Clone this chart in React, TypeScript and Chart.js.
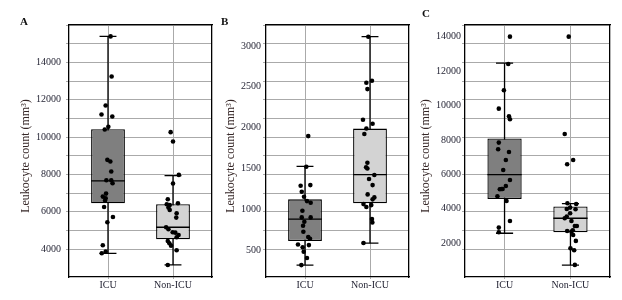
import React, { useEffect, useRef } from 'react';
import { Chart, registerables } from 'chart.js';
Chart.register(...registerables);

const GROUPS = ['ICU', 'Non-ICU'];
const Y_TITLE = 'Leukocyte count (mm³)';

// Panel A
const A_ICU = [15390, 13245, 11690, 11207, 11100, 10545, 10402, 8775, 8686, 8149, 7685, 7685, 7524, 6969, 6808, 6719, 6594, 6254, 5718, 5432, 4198, 3769, 3858];
const A_ICU_JIT = [0.04, 0.056, -0.036, -0.1, 0.066, 0.005, -0.05, -0.01, 0.036, 0.05, -0.025, 0.05, 0.07, -0.03, -0.08, -0.036, -0.045, -0.06, 0.076, -0.01, -0.08, -0.096, -0.036];
const A_NON = [10259, 9759, 7970, 7506, 6665, 6397, 6361, 6451, 6218, 6093, 5915, 5682, 5163, 5056, 4895, 4877, 4752, 4627, 4430, 4305, 4180, 3930, 3143];
const A_NON_JIT = [-0.036, 0, 0.09, 0, -0.08, -0.096, -0.05, 0.076, -0.07, -0.05, 0.056, 0.05, -0.106, -0.07, -0.005, 0.036, 0.086, 0.056, -0.08, -0.056, -0.03, 0.056, -0.08];
const A_Q1 = [6450, 4520];
const A_MED = [7650, 5165];
const A_Q3 = [10420, 6400];
const A_LO = [3770, 3145];
const A_HI = [15390, 7935];
const A_TICKS = [4000, 6000, 8000, 10000, 12000, 14000];

// Panel B
const B_ICU = [1896, 1521, 1288, 1296, 1215, 1153, 1100, 1080, 982, 900, 900, 847, 798, 725, 659, 639, 569, 533, 561, 480, 402, 316];
const B_ICU_JIT = [0.05, 0.02, -0.067, 0.082, -0.05, -0.015, 0.03, 0.087, -0.04, -0.05, 0.087, -0.01, -0.03, -0.025, 0.05, 0.077, -0.108, -0.036, 0.06, -0.02, 0.03, -0.056];
const B_NON = [3113, 2550, 2574, 2472, 2097, 2048, 1990, 1921, 1570, 1513, 1500, 1419, 1370, 1296, 1182, 1145, 1121, 1063, 1027, 1051, 880, 839, 586];
const B_NON_JIT = [-0.026, -0.056, 0.03, -0.04, -0.108, 0.04, -0.056, -0.087, -0.04, -0.06, -0.04, 0.067, -0.015, 0.04, -0.036, 0.067, 0.04, -0.1, -0.056, 0.02, 0.03, 0.036, -0.1];
const B_Q1 = [610, 1072];
const B_MED = [880, 1425];
const B_Q3 = [1121, 1988];
const B_LO = [316, 584];
const B_HI = [1525, 3115];
const B_TICKS = [500, 1000, 1500, 2000, 2500, 3000];

// Panel C
const C_ICU = [14003, 12416, 10886, 9821, 9376, 9202, 7847, 7460, 7305, 6840, 6259, 5678, 5330, 5156, 5136, 5156, 4730, 4459, 3297, 2910, 2639];
const C_ICU_JIT = [0.082, 0.056, -0.01, -0.087, 0.067, 0.082, -0.087, -0.097, 0.067, 0.02, -0.02, 0.082, 0.02, -0.03, -0.072, -0.046, -0.108, 0.03, 0.082, -0.087, -0.087];
const C_NON = [14003, 8350, 6840, 6588, 4323, 4285, 4071, 3994, 3975, 3742, 3452, 3549, 3297, 3007, 3007, 2716, 2678, 2755, 2484, 2136, 1710, 1593, 742];
const C_NON_JIT = [-0.026, -0.087, 0.041, -0.05, -0.046, 0.087, -0.005, -0.056, 0.077, -0.005, -0.087, -0.056, 0.015, 0.067, 0.097, -0.05, 0.015, 0.036, 0.041, 0.082, 0, 0.056, 0.067];
const C_Q1 = [4575, 2639];
const C_MED = [5988, 3452];
const C_Q3 = [8090, 4140];
const C_LO = [2581, 735];
const C_HI = [12460, 4300];
const C_TICKS = [2000, 4000, 6000, 8000, 10000, 12000, 14000];

const FONT = "'Liberation Serif', 'Times New Roman', serif";
const GRID = '#aaaaaa';
const TICK_COLOR = '#262636';
const TITLE_COLOR = '#352626';
const BOX_HALF = 0.26;
const CAP_HALF = 0.13;
const BOX_COLORS = ['#7f7f7f', '#d3d3d3'];

type Spec = {
  letter: string; left: number; width: number; letterX: number; letterY: number; titleX: number;
  icu: number[]; icuJit: number[]; non: number[]; nonJit: number[];
  q1: number[]; med: number[]; q3: number[]; lo: number[]; hi: number[];
  yMin: number; yMax: number; yTicks: number[];
  axisW: number; tickPad: number; padRight: number;
};

const PANELS: Spec[] = [
  { letter: 'A', left: 0, width: 216, letterX: 20, letterY: 16, titleX: 25, icu: A_ICU, icuJit: A_ICU_JIT, non: A_NON, nonJit: A_NON_JIT,
    q1: A_Q1, med: A_MED, q3: A_Q3, lo: A_LO, hi: A_HI, yMin: 2500, yMax: 16000, yTicks: A_TICKS,
    axisW: 66, tickPad: 5, padRight: 3 },
  { letter: 'B', left: 216, width: 197, letterX: 221, letterY: 16, titleX: 230, icu: B_ICU, icuJit: B_ICU_JIT, non: B_NON, nonJit: B_NON_JIT,
    q1: B_Q1, med: B_MED, q3: B_Q3, lo: B_LO, hi: B_HI, yMin: 170, yMax: 3257, yTicks: B_TICKS,
    axisW: 47, tickPad: 2, padRight: 3 },
  { letter: 'C', left: 413, width: 209, letterX: 422, letterY: 8, titleX: 425, icu: C_ICU, icuJit: C_ICU_JIT, non: C_NON, nonJit: C_NON_JIT,
    q1: C_Q1, med: C_MED, q3: C_Q3, lo: C_LO, hi: C_HI, yMin: 40, yMax: 14680, yTicks: C_TICKS,
    axisW: 49, tickPad: 1, padRight: 12 },
];

function Panel({ spec }: { spec: Spec }) {
  const ref = useRef<HTMLCanvasElement>(null);
  useEffect(() => {
    if (!ref.current) return;
    const pts = (vals: number[], jit: number[], g: number) => vals.map((v, i) => ({ x: g + jit[i], y: v }));
    const segs: any[] = [];
    const whisk: any[] = [];
    [0, 1].forEach((i) => {
      const g = i + 1;
      segs.push({ x: g - BOX_HALF, y: spec.med[i] }, { x: g + BOX_HALF, y: spec.med[i] }, { x: g, y: null });
      segs.push({ x: g - CAP_HALF, y: spec.hi[i] }, { x: g + CAP_HALF, y: spec.hi[i] }, { x: g, y: null });
      segs.push({ x: g - CAP_HALF, y: spec.lo[i] }, { x: g + CAP_HALF, y: spec.lo[i] }, { x: g, y: null });
      whisk.push({ x: g, y: spec.lo[i] }, { x: g, y: spec.hi[i] }, { x: g, y: null });
    });
    const chart = new Chart(ref.current, {
      type: 'bar',
      data: {
        datasets: [
          { type: 'scatter', data: [...pts(spec.icu, spec.icuJit, 1), ...pts(spec.non, spec.nonJit, 2)],
            pointRadius: 2.3, backgroundColor: '#000', borderWidth: 0, order: 0, xAxisID: 'x', yAxisID: 'y' } as any,
          { type: 'line', data: segs, borderColor: '#000', borderWidth: 1.3, pointRadius: 0, spanGaps: false,
            fill: false, order: 1, xAxisID: 'x', yAxisID: 'y' } as any,
          { type: 'bar', data: [{ x: 1, y: [spec.q1[0], spec.q3[0]] }, { x: 2, y: [spec.q1[1], spec.q3[1]] }],
            backgroundColor: BOX_COLORS, borderColor: '#000', borderWidth: 1.3, borderSkipped: false,
            barPercentage: 0.52, categoryPercentage: 1, order: 2, xAxisID: 'x', yAxisID: 'y' } as any,
          { type: 'line', data: whisk, borderColor: '#000', borderWidth: 1.3, pointRadius: 0, spanGaps: false,
            fill: false, order: 3, xAxisID: 'x', yAxisID: 'y' } as any,
        ],
      },
      options: {
        animation: false,
        responsive: false,
        events: [],
        layout: { padding: { left: 0, right: spec.padRight, top: 25, bottom: 0 } },
        plugins: { legend: { display: false }, tooltip: { enabled: false } },
        scales: {
          x: {
            type: 'linear', position: 'bottom', min: 0.4, max: 2.6, offset: false,
            afterBuildTicks: (s: any) => { s.ticks = [{ value: 1 }, { value: 2 }]; },
            ticks: { callback: (v: any) => GROUPS[Math.round(Number(v)) - 1] ?? '', font: { family: FONT, size: 10 },
              color: TICK_COLOR, padding: 0, autoSkip: false, maxRotation: 0 },
            grid: { color: GRID, lineWidth: 1, offset: false, drawTicks: true, tickLength: 2, tickColor: GRID },
            border: { display: true, color: '#000', width: 1.3 },
            afterFit: (s: any) => { s.height = 23; },
          },
          xTop: {
            type: 'linear', position: 'top', display: true,
            ticks: { display: false }, grid: { display: false, drawTicks: false },
            border: { display: true, color: '#000', width: 1.3 },
            afterFit: (s: any) => { s.height = 0; },
          },
          y: {
            type: 'linear', position: 'left', min: spec.yMin, max: spec.yMax, weight: 1,
            afterBuildTicks: (s: any) => { s.ticks = spec.yTicks.map((v) => ({ value: v })); },
            ticks: { callback: (v: any) => String(v), padding: spec.tickPad, font: { family: FONT, size: 10 }, color: TICK_COLOR },
            grid: { display: false, drawTicks: false },
            border: { display: false },
            afterFit: (s: any) => { s.width = spec.axisW; },
          },
          yGrid: {
            type: 'linear', position: 'left', min: -0.5, max: 13, weight: 0,
            afterBuildTicks: (s: any) => { s.ticks = s.ticks.filter((t: any) => Number.isInteger(t.value)); },
            ticks: { display: false, stepSize: 1 },
            grid: { color: GRID, lineWidth: 1, drawTicks: true, tickLength: 3, tickColor: GRID },
            border: { display: true, color: '#000', width: 1.3 },
            afterFit: (s: any) => { s.width = 3; },
          },
          yRight: {
            type: 'linear', position: 'right', display: true,
            ticks: { display: false }, grid: { display: false, drawTicks: false },
            border: { display: true, color: '#000', width: 1.3 },
            afterFit: (s: any) => { s.width = 0; },
          },
        } as any,
      },
    });
    return () => chart.destroy();
  }, [spec]);
  return (
    <>
      <canvas ref={ref} width={spec.width} height={300}
        style={{ position: 'absolute', left: spec.left, top: 0, width: spec.width, height: 300, display: 'block' }} />
      <div style={{ position: 'absolute', left: spec.letterX, top: spec.letterY, font: `bold 11px ${FONT}`, lineHeight: '11px', color: '#111' }}>
        {spec.letter}
      </div>
      <div style={{ position: 'absolute', left: spec.titleX, top: 156, transform: 'translate(-50%, -50%) rotate(-90deg)',
        whiteSpace: 'nowrap', font: `12px ${FONT}`, lineHeight: '14px', color: TITLE_COLOR }}>
        {Y_TITLE}
      </div>
    </>
  );
}

export default function App() {
  return (
    <div style={{ position: 'absolute', left: 0, top: 0, width: 622, height: 300, background: '#fff' }}>
      {PANELS.map((p) => <Panel key={p.letter} spec={p} />)}
    </div>
  );
}
